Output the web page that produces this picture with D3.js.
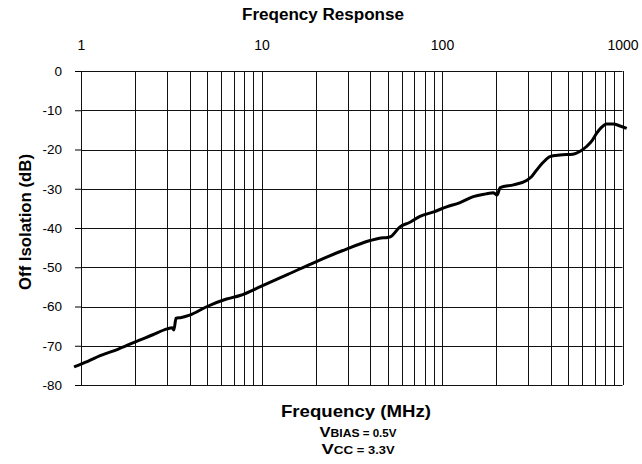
<!DOCTYPE html>
<html>
<head>
<meta charset="utf-8">
<script src="https://cdn.jsdelivr.net/npm/d3@7"></script>
<style>
  body { margin: 0; background: #fff; }
  svg { display: block; font-family: "Liberation Sans", Arial, sans-serif; }
  .axis path, .axis line { stroke: #000; }
  .axis text { font-size: 14px; fill: #000; }
</style>
</head>
<body>
<div id="vis"></div>
<script>
// chart data (MHz / dB)
const freq = [0.915, 1, 1.3, 1.6, 2, 2.5, 3, 3.2, 3.27, 3.36, 3.6, 4, 5, 6.4, 7.6, 10, 14, 20, 28, 40, 45, 50, 52, 58.5, 66, 75, 90, 106, 125, 149, 175, 193, 202, 210, 249, 294, 315, 335, 365, 396, 450, 531, 580, 630, 680, 718, 760, 816, 888, 970, 1055];
const isolation = [-75.4, -74.7, -72.4, -70.9, -69.0, -67.2, -65.7, -65.4, -66.0, -63.0, -62.8, -62.2, -60.0, -58.1, -57.2, -54.8, -51.8, -48.6, -45.8, -43.2, -42.6, -42.4, -42.2, -39.7, -38.6, -37.1, -35.9, -34.6, -33.6, -32.0, -31.3, -31.0, -31.6, -29.7, -29.0, -27.9, -26.8, -25.2, -23.2, -21.8, -21.4, -21.2, -20.5, -19.3, -17.7, -15.9, -14.5, -13.5, -13.5, -14.0, -14.6];

const xTicks = [1, 10, 100, 1000];
const yTicks = [0, -10, -20, -30, -40, -50, -60, -70, -80];

const title = "Freqency Response";
const xTitle = "Frequency (MHz)";
const yTitle = "Off Isolation (dB)";

const W = 642, H = 464;
const margin = { top: 71, right: 19.5, bottom: 79, left: 81 };
const width = W - margin.left - margin.right;
const height = H - margin.top - margin.bottom;

const svg = d3.select("#vis").append("svg")
  .attr("width", W)
  .attr("height", H);

const g = svg.append("g")
  .attr("transform", `translate(${margin.left},${margin.top})`);

const x = d3.scaleLog().domain([1, 1000]).range([0, width]);
const y = d3.scaleLinear().domain([-80, 0]).range([height, 0]);

// minor + major vertical grid (1..9 of every decade)
const vGrid = [];
for (let dec = 1; dec < 1000; dec *= 10) {
  for (let k = 1; k <= 9; k++) vGrid.push(dec * k);
}
vGrid.push(1000);

g.selectAll(".vgrid")
  .data(vGrid)
  .enter()
  .append("line")
  .attr("class", "vgrid")
  .attr("x1", d => Math.round(x(d)) + 0.5)
  .attr("x2", d => Math.round(x(d)) + 0.5)
  .attr("y1", 0)
  .attr("y2", height)
  .attr("stroke", "#111")
  .attr("stroke-width", 1);

g.selectAll(".hgrid")
  .data(yTicks)
  .enter()
  .append("line")
  .attr("class", "hgrid")
  .attr("x1", 0)
  .attr("x2", width)
  .attr("y1", d => Math.round(y(d)) + 0.5)
  .attr("y2", d => Math.round(y(d)) + 0.5)
  .attr("stroke", "#111")
  .attr("stroke-width", 1);

// y axis, ticks pointing out, plain hyphen minus
g.append("g")
  .attr("class", "axis")
  .call(d3.axisLeft(y).tickValues(yTicks).tickSize(6).tickPadding(13).tickFormat(d => String(d)))
  .call(s => s.select(".domain").remove())
  .call(s => s.selectAll("text").style("font-size", "13.5px"));

// top axis labels only
g.append("g")
  .attr("class", "axis")
  .call(d3.axisTop(x).tickValues(xTicks).tickSize(0).tickPadding(21).tickFormat(d3.format("d")))
  .call(s => s.select(".domain").remove());

// curve
g.append("path")
  .datum(freq.map((f, i) => ({ f: f, v: isolation[i] })))
  .attr("fill", "none")
  .attr("stroke", "#000")
  .attr("stroke-width", 3)
  .attr("stroke-linejoin", "round")
  .attr("d", d3.line()
    .x(d => x(d.f))
    .y(d => y(d.v))
    .curve(d3.curveMonotoneX));

// titles
svg.append("text")
  .attr("x", 323)
  .attr("y", 20)
  .attr("text-anchor", "middle")
  .attr("textLength", 162)
  .attr("lengthAdjust", "spacingAndGlyphs")
  .style("font-size", "16px")
  .style("font-weight", "bold")
  .text(title);

svg.append("text")
  .attr("x", 356)
  .attr("y", 417)
  .attr("text-anchor", "middle")
  .attr("textLength", 150)
  .attr("lengthAdjust", "spacingAndGlyphs")
  .style("font-size", "17px")
  .style("font-weight", "bold")
  .text(xTitle);

svg.append("text")
  .attr("transform", `translate(31,${margin.top + height / 2 - 6}) rotate(-90)`)
  .attr("text-anchor", "middle")
  .attr("textLength", 136)
  .attr("lengthAdjust", "spacingAndGlyphs")
  .style("font-size", "16px")
  .style("font-weight", "bold")
  .text(yTitle);

// bias notes with small-cap style subscripts
const notes = [
  { big: "V", small: "BIAS", rest: " = 0.5V", y: 437, len: 77 },
  { big: "V", small: "CC", rest: " = 3.3V", y: 454, len: 73 }
];
notes.forEach(n => {
  const t = svg.append("text")
    .attr("x", 358)
    .attr("y", n.y)
    .attr("text-anchor", "middle")
    .attr("textLength", n.len)
    .attr("lengthAdjust", "spacingAndGlyphs")
    .style("font-weight", "bold");
  t.append("tspan").style("font-size", "15px").text(n.big);
  t.append("tspan").style("font-size", "11px").text(n.small);
  t.append("tspan").style("font-size", "10.5px").text(n.rest);
});
</script>
</body>
</html>
